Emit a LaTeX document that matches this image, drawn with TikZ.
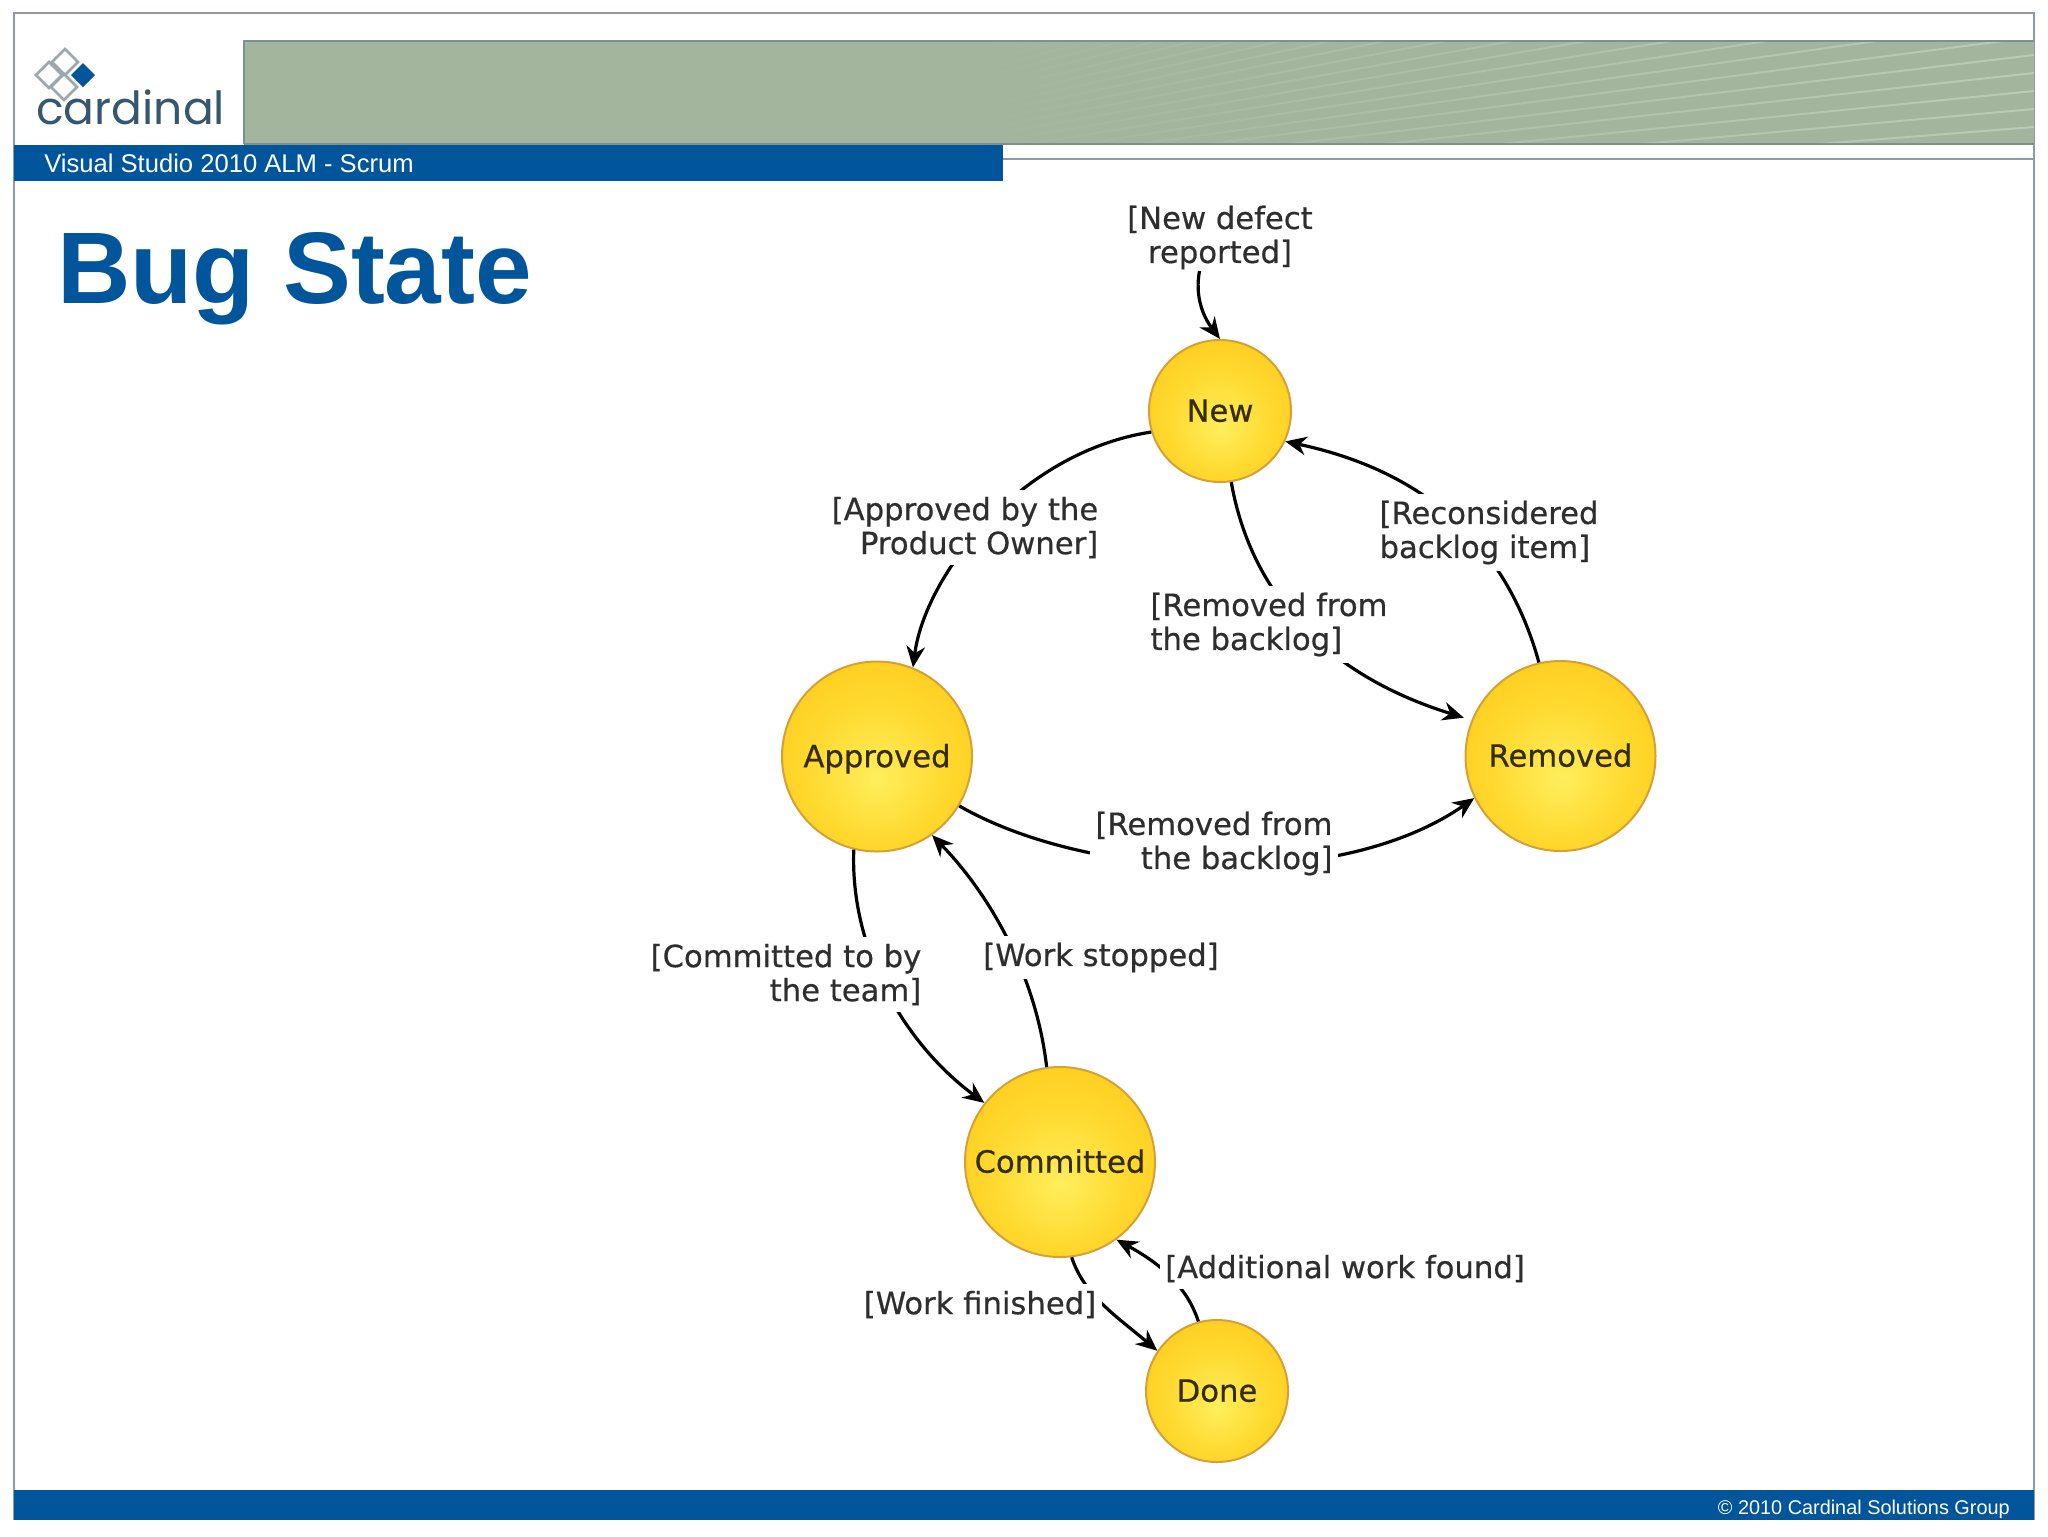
\documentclass[tikz,border=0pt]{standalone}
\usepackage{fontspec}
\setmainfont{Liberation Sans}
\newfontfamily\djfont[RawFeature={embolden=0.5}]{DejaVu Sans}
\newfontfamily\logofont{Poppins}
\usetikzlibrary{arrows.meta,fadings}
\definecolor{bandblue}{HTML}{00559B}
\definecolor{bandgreen}{HTML}{A3B59C}
\definecolor{stripe}{HTML}{BDCFB6}
\definecolor{bandedge}{HTML}{7F918E}
\definecolor{framegray}{HTML}{8C9CA6}
\definecolor{ballA}{HTML}{FFEE5C}
\definecolor{ballB}{HTML}{FFD92F}
\definecolor{ballC}{HTML}{FFC20E}
\definecolor{ballEdge}{HTML}{D6A035}
\definecolor{labelgray}{HTML}{2E2E2E}
\definecolor{balltext}{HTML}{352C00}
\definecolor{logotext}{HTML}{36586F}
\definecolor{logogray}{HTML}{9AA8B0}
\pgfdeclareradialshading{ball}{\pgfpoint{0bp}{-6bp}}{color(0bp)=(ballA); color(18bp)=(ballB); color(42bp)=(ballC); color(50bp)=(ballC)}
\tikzset{
  x=0.75pt,y=-0.75pt,
  state/.style={circle,shading=ball,draw=ballEdge,line width=1.5pt,inner sep=0pt,text=balltext,text height=16pt,text depth=0pt,font=\djfont\fontsize{23}{26}\selectfont},
  big/.style={state,minimum size=142.5pt},
  small/.style={state,minimum size=106.5pt},
  flow/.style={line width=2.4pt,black,-{Stealth[length=16pt,width=14pt]}},
  lbl/.style={fill=white,inner xsep=4pt,inner ysep=5pt,text=labelgray,font=\djfont\fontsize{23}{25.5}\selectfont},
  diam/.style={draw=logogray,line width=2pt,fill=white,fill opacity=0.6},
}
\begin{document}
\begin{tikzpicture}
\useasboundingbox (0,0) rectangle (2048,1536);
\fill[white] (0,0) rectangle (2048,1536);
% frame
\draw[framegray,line width=1.4pt] (14,1520) -- (14,13) -- (2034,13) -- (2034,1520);
% green band
\begin{scope}
\clip (244,42) rectangle (2034,144);
\fill[bandgreen] (244,42) rectangle (2034,144);
\foreach \k in {-30,...,7}{
  \pgfmathsetmacro{\yy}{37+18*\k}
  \draw[stripe,line width=1.5pt] (252,268) -- (2034,\yy);
}
\fill[bandgreen] (244,42) rectangle (951,144);
\fill[bandgreen,path fading=east] (950,42) rectangle (2150,144);
\end{scope}
\draw[bandedge,line width=1.5pt] (244,144) -- (244,41) -- (2034,41);
\draw[bandedge,line width=1.5pt] (244,144) -- (2034,144);
\draw[framegray,line width=1.4pt] (1003,159) -- (2034,159);
% blue bars
\fill[bandblue] (14,145) rectangle (1003,181);
\fill[bandblue] (14,1490) rectangle (2034,1520);
% logo
\foreach \cx/\cy in {65/62,49/75,64/87}{
  \draw[diam] (\cx,\cy-13) -- (\cx+13,\cy) -- (\cx,\cy+13) -- (\cx-13,\cy) -- cycle;
}
\fill[bandblue] (83,63) -- (95,75) -- (83,87) -- (71,75) -- cycle;
\node[anchor=base west,inner sep=0pt,text=logotext,font=\logofont\fontsize{34.2}{34}\selectfont] (logo) at (36,124) {cardinal};
% headings
\node[anchor=base west,inner sep=0pt,text=white,font=\fontsize{19.2}{22}\selectfont] (sub) at (44,172) {Visual Studio 2010 ALM - Scrum};
\node[anchor=base west,inner sep=0pt,text=bandblue,font=\bfseries\fontsize{76.3}{80}\selectfont] (title) at (57,303) {Bug State};
\node[anchor=base east,inner sep=0pt,text=white,font=\fontsize{14.9}{17}\selectfont] (foot) at (2010,1514) {© 2010 Cardinal Solutions Group};
% states
\node[small] (new) at (1220,411) {New};
\node[big] (approved) at (877,756.5) {Approved};
\node[big] (removed) at (1560.5,756) {Removed};
\node[big] (committed) at (1060,1162) {Committed};
\node[small] (done) at (1217,1391) {Done};
\coordinate (start) at (1199.5,271);
% connectors
\draw[flow] (start) .. controls (1195,295) and (1202,315) .. (new.90);
\draw[flow] (new.197) .. controls (1020,452) and (925,575) .. (approved.68.6);
\draw[flow] (removed.103.4) .. controls (1505,540) and (1420,470) .. (new.335);
\draw[flow,shorten >=6pt] (new.279) .. controls (1248,578) and (1310,670) .. (removed.158.5);
\draw[flow] (approved.-31) .. controls (1090,881) and (1340,892) .. (removed.206);
\draw[flow] (approved.256) .. controls (850,945) and (900,1040) .. (committed.142);
\draw[flow] (committed.98.3) .. controls (1036,975) and (990,895) .. (approved.305.6);
\draw[flow] (committed.277) .. controls (1084,1295) and (1115,1315) .. (done.146);
\draw[flow] (done.105) .. controls (1185,1280) and (1150,1258) .. (committed.306);
% labels
\node[lbl,align=center,fill=none] (l1) at (1220,237.5) {[New defect\\reported]};
\node[lbl,align=right] (l2) at (965,527.5) {[Approved by the\\Product Owner]};
\node[lbl,align=left] (l3) at (1489,532.5) {[Reconsidered\\backlog item]};
\node[lbl,align=left] (l4) at (1269,624.5) {[Removed from\\the backlog]};
\node[lbl,align=right] (l5) at (1214,843.5) {[Removed from\\the backlog]};
\node[lbl,align=right] (l6) at (786,974.5) {[Committed to by\\the team]};
\node[lbl] (l7) at (1101,957.5) {[Work stopped]};
\node[lbl] (l8) at (1345,1268.5) {[Additional work found]};
\node[lbl] (l9) at (980,1304.5) {[Work finished]};
\end{tikzpicture}
\end{document}
